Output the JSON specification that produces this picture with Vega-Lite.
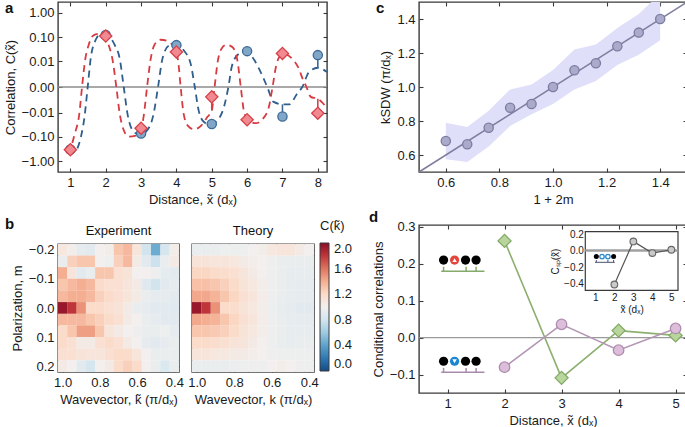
{
"$schema": "https://vega.github.io/schema/vega-lite/v6.json",
"padding": {"left": 3, "top": 0, "right": 0, "bottom": 0},
"background": "white",
"spacing": 15,
"resolve": {"scale": {"color": "independent"}},
"datasets": {
"one": [{}],
"ptsB": [{"x":1,"y":-0.33,"t":-0.33},{"x":2,"y":0.125,"t":0.125},{"x":3,"y":-0.075,"t":-0.085},{"x":4,"y":0.048,"t":0.055},{"x":5,"y":-0.03,"t":-0.032},{"x":6,"y":0.027,"t":0.022},{"x":7,"y":-0.0145,"t":-0.004},{"x":8,"y":0.0184,"t":0.005}],
"ptsR": [{"x":1,"y":-0.34,"t":-0.3},{"x":2,"y":0.113,"t":0.12},{"x":3,"y":-0.045,"t":-0.05},{"x":4,"y":0.025,"t":0.025},{"x":5,"y":-0.0015,"t":-0.008},{"x":6,"y":-0.02,"t":-0.024},{"x":7,"y":0.0216,"t":0.02},{"x":8,"y":-0.0104,"t":-0.002}],
"curveB": [{"x":1.2,"y":-0.3},{"x":1.3,"y":-0.1},{"x":1.4,"y":-0.015},{"x":1.49,"y":0},{"x":1.58,"y":0.015},{"x":1.7,"y":0.07},{"x":1.85,"y":0.13},{"x":2.05,"y":0.12},{"x":2.25,"y":0.05},{"x":2.4,"y":0.012},{"x":2.51,"y":0},{"x":2.62,"y":-0.012},{"x":2.78,"y":-0.06},{"x":2.97,"y":-0.085},{"x":3.15,"y":-0.06},{"x":3.35,"y":-0.012},{"x":3.48,"y":0},{"x":3.6,"y":0.012},{"x":3.78,"y":0.045},{"x":4.0,"y":0.055},{"x":4.2,"y":0.03},{"x":4.4,"y":0.008},{"x":4.52,"y":0},{"x":4.63,"y":-0.008},{"x":4.78,"y":-0.025},{"x":4.95,"y":-0.032},{"x":5.15,"y":-0.022},{"x":5.35,"y":-0.005},{"x":5.47,"y":0},{"x":5.57,"y":0.006},{"x":5.75,"y":0.02},{"x":5.95,"y":0.027},{"x":6.15,"y":0.015},{"x":6.35,"y":0.004},{"x":6.57,"y":0},{"x":6.75,"y":-0.003},{"x":7.0,"y":-0.004},{"x":7.2,"y":-0.004},{"x":7.4,"y":-0.001},{"x":7.56,"y":0},{"x":7.75,"y":0.003},{"x":8.0,"y":0.005},{"x":8.26,"y":0.003}],
"curveR": [{"x":0.88,"y":-0.45},{"x":1.0,"y":-0.3},{"x":1.12,"y":-0.08},{"x":1.25,"y":-0.012},{"x":1.33,"y":0},{"x":1.42,"y":0.012},{"x":1.52,"y":0.05},{"x":1.65,"y":0.12},{"x":1.8,"y":0.14},{"x":1.95,"y":0.12},{"x":2.08,"y":0.05},{"x":2.2,"y":0.01},{"x":2.3,"y":0},{"x":2.4,"y":-0.012},{"x":2.5,"y":-0.05},{"x":2.65,"y":-0.1},{"x":2.85,"y":-0.09},{"x":3.0,"y":-0.05},{"x":3.08,"y":-0.012},{"x":3.17,"y":0},{"x":3.27,"y":0.012},{"x":3.38,"y":0.05},{"x":3.55,"y":0.08},{"x":3.75,"y":0.07},{"x":3.95,"y":0.035},{"x":4.05,"y":0.01},{"x":4.12,"y":0},{"x":4.2,"y":-0.01},{"x":4.32,"y":-0.035},{"x":4.5,"y":-0.05},{"x":4.7,"y":-0.035},{"x":4.88,"y":-0.015},{"x":5.0,"y":-0.008},{"x":5.08,"y":0},{"x":5.17,"y":0.01},{"x":5.28,"y":0.035},{"x":5.42,"y":0.05},{"x":5.58,"y":0.04},{"x":5.72,"y":0.012},{"x":5.82,"y":0},{"x":5.92,"y":-0.01},{"x":6.05,"y":-0.022},{"x":6.25,"y":-0.028},{"x":6.45,"y":-0.018},{"x":6.62,"y":-0.005},{"x":6.72,"y":0},{"x":6.82,"y":0.006},{"x":6.92,"y":0.016},{"x":7.05,"y":0.02},{"x":7.25,"y":0.014},{"x":7.45,"y":0.005},{"x":7.58,"y":0.001},{"x":7.68,"y":0},{"x":7.8,"y":-0.0015},{"x":8.0,"y":-0.002},{"x":8.26,"y":-0.006}],
"exp": [
{"m":-0.2,"k":1,"c":1.08},{"m":-0.2,"k":0.95,"c":1.02},{"m":-0.2,"k":0.9,"c":0.92},{"m":-0.2,"k":0.85,"c":0.9},{"m":-0.2,"k":0.8,"c":1.0},{"m":-0.2,"k":0.75,"c":1.02},{"m":-0.2,"k":0.7,"c":1.3},{"m":-0.2,"k":0.65,"c":1.35},{"m":-0.2,"k":0.6,"c":1.1},{"m":-0.2,"k":0.55,"c":0.8},{"m":-0.2,"k":0.5,"c":0.45},{"m":-0.2,"k":0.45,"c":0.82},{"m":-0.2,"k":0.4,"c":1.02},
{"m":-0.16,"k":1,"c":0.95},{"m":-0.16,"k":0.95,"c":1.25},{"m":-0.16,"k":0.9,"c":1.3},{"m":-0.16,"k":0.85,"c":1.3},{"m":-0.16,"k":0.8,"c":1.0},{"m":-0.16,"k":0.75,"c":0.97},{"m":-0.16,"k":0.7,"c":1.25},{"m":-0.16,"k":0.65,"c":1.35},{"m":-0.16,"k":0.6,"c":1.05},{"m":-0.16,"k":0.55,"c":0.9},{"m":-0.16,"k":0.5,"c":0.78},{"m":-0.16,"k":0.45,"c":0.95},{"m":-0.16,"k":0.4,"c":1.05},
{"m":-0.12,"k":1,"c":1.4},{"m":-0.12,"k":0.95,"c":1.1},{"m":-0.12,"k":0.9,"c":0.9},{"m":-0.12,"k":0.85,"c":0.95},{"m":-0.12,"k":0.8,"c":1.3},{"m":-0.12,"k":0.75,"c":1.3},{"m":-0.12,"k":0.7,"c":1.15},{"m":-0.12,"k":0.65,"c":1.12},{"m":-0.12,"k":0.6,"c":1.0},{"m":-0.12,"k":0.55,"c":1.0},{"m":-0.12,"k":0.5,"c":0.98},{"m":-0.12,"k":0.45,"c":0.92},{"m":-0.12,"k":0.4,"c":0.9},
{"m":-0.08,"k":1,"c":1.3},{"m":-0.08,"k":0.95,"c":1.35},{"m":-0.08,"k":0.9,"c":1.4},{"m":-0.08,"k":0.85,"c":1.35},{"m":-0.08,"k":0.8,"c":1.2},{"m":-0.08,"k":0.75,"c":1.15},{"m":-0.08,"k":0.7,"c":1.15},{"m":-0.08,"k":0.65,"c":1.1},{"m":-0.08,"k":0.6,"c":1.05},{"m":-0.08,"k":0.55,"c":0.88},{"m":-0.08,"k":0.5,"c":0.8},{"m":-0.08,"k":0.45,"c":0.9},{"m":-0.08,"k":0.4,"c":0.92},
{"m":-0.04,"k":1,"c":1.35},{"m":-0.04,"k":0.95,"c":1.4},{"m":-0.04,"k":0.9,"c":1.4},{"m":-0.04,"k":0.85,"c":1.35},{"m":-0.04,"k":0.8,"c":1.25},{"m":-0.04,"k":0.75,"c":1.2},{"m":-0.04,"k":0.7,"c":1.15},{"m":-0.04,"k":0.65,"c":1.1},{"m":-0.04,"k":0.6,"c":1.05},{"m":-0.04,"k":0.55,"c":0.95},{"m":-0.04,"k":0.5,"c":0.92},{"m":-0.04,"k":0.45,"c":0.92},{"m":-0.04,"k":0.4,"c":0.9},
{"m":0,"k":1,"c":1.95},{"m":0,"k":0.95,"c":1.8},{"m":0,"k":0.9,"c":1.5},{"m":0,"k":0.85,"c":1.2},{"m":0,"k":0.8,"c":1.2},{"m":0,"k":0.75,"c":1.15},{"m":0,"k":0.7,"c":1.12},{"m":0,"k":0.65,"c":1.05},{"m":0,"k":0.6,"c":0.95},{"m":0,"k":0.55,"c":0.92},{"m":0,"k":0.5,"c":0.9},{"m":0,"k":0.45,"c":0.9},{"m":0,"k":0.4,"c":0.88},
{"m":0.04,"k":1,"c":1.35},{"m":0.04,"k":0.95,"c":1.35},{"m":0.04,"k":0.9,"c":1.35},{"m":0.04,"k":0.85,"c":1.3},{"m":0.04,"k":0.8,"c":1.25},{"m":0.04,"k":0.75,"c":1.2},{"m":0.04,"k":0.7,"c":1.15},{"m":0.04,"k":0.65,"c":1.05},{"m":0.04,"k":0.6,"c":1.0},{"m":0.04,"k":0.55,"c":0.95},{"m":0.04,"k":0.5,"c":0.92},{"m":0.04,"k":0.45,"c":0.9},{"m":0.04,"k":0.4,"c":0.9},
{"m":0.08,"k":1,"c":1.2},{"m":0.08,"k":0.95,"c":1.3},{"m":0.08,"k":0.9,"c":1.45},{"m":0.08,"k":0.85,"c":1.45},{"m":0.08,"k":0.8,"c":1.3},{"m":0.08,"k":0.75,"c":1.1},{"m":0.08,"k":0.7,"c":1.05},{"m":0.08,"k":0.65,"c":1.0},{"m":0.08,"k":0.6,"c":0.98},{"m":0.08,"k":0.55,"c":0.95},{"m":0.08,"k":0.5,"c":0.95},{"m":0.08,"k":0.45,"c":0.97},{"m":0.08,"k":0.4,"c":0.92},
{"m":0.12,"k":1,"c":1.2},{"m":0.12,"k":0.95,"c":1.15},{"m":0.12,"k":0.9,"c":1.05},{"m":0.12,"k":0.85,"c":1.05},{"m":0.12,"k":0.8,"c":1.15},{"m":0.12,"k":0.75,"c":1.2},{"m":0.12,"k":0.7,"c":1.15},{"m":0.12,"k":0.65,"c":1.05},{"m":0.12,"k":0.6,"c":1.0},{"m":0.12,"k":0.55,"c":0.92},{"m":0.12,"k":0.5,"c":0.9},{"m":0.12,"k":0.45,"c":0.92},{"m":0.12,"k":0.4,"c":0.95},
{"m":0.16,"k":1,"c":1.15},{"m":0.16,"k":0.95,"c":1.15},{"m":0.16,"k":0.9,"c":1.12},{"m":0.16,"k":0.85,"c":1.1},{"m":0.16,"k":0.8,"c":1.1},{"m":0.16,"k":0.75,"c":1.15},{"m":0.16,"k":0.7,"c":1.2},{"m":0.16,"k":0.65,"c":1.2},{"m":0.16,"k":0.6,"c":1.1},{"m":0.16,"k":0.55,"c":1.0},{"m":0.16,"k":0.5,"c":0.95},{"m":0.16,"k":0.45,"c":0.95},{"m":0.16,"k":0.4,"c":0.95},
{"m":0.2,"k":1,"c":1.05},{"m":0.2,"k":0.95,"c":1.0},{"m":0.2,"k":0.9,"c":0.9},{"m":0.2,"k":0.85,"c":0.82},{"m":0.2,"k":0.8,"c":1.0},{"m":0.2,"k":0.75,"c":1.05},{"m":0.2,"k":0.7,"c":1.2},{"m":0.2,"k":0.65,"c":1.25},{"m":0.2,"k":0.6,"c":1.2},{"m":0.2,"k":0.55,"c":1.0},{"m":0.2,"k":0.5,"c":0.95},{"m":0.2,"k":0.45,"c":0.85},{"m":0.2,"k":0.4,"c":0.95}
],
"thy": [
{"m":-0.2,"k":1,"c":0.95},{"m":-0.2,"k":0.95,"c":0.95},{"m":-0.2,"k":0.9,"c":0.95},{"m":-0.2,"k":0.85,"c":0.97},{"m":-0.2,"k":0.8,"c":0.97},{"m":-0.2,"k":0.75,"c":0.97},{"m":-0.2,"k":0.7,"c":1.0},{"m":-0.2,"k":0.65,"c":1.02},{"m":-0.2,"k":0.6,"c":1.08},{"m":-0.2,"k":0.55,"c":1.1},{"m":-0.2,"k":0.5,"c":1.1},{"m":-0.2,"k":0.45,"c":1.05},{"m":-0.2,"k":0.4,"c":1.0},
{"m":-0.16,"k":1,"c":1.12},{"m":-0.16,"k":0.95,"c":1.12},{"m":-0.16,"k":0.9,"c":1.1},{"m":-0.16,"k":0.85,"c":1.1},{"m":-0.16,"k":0.8,"c":1.08},{"m":-0.16,"k":0.75,"c":1.05},{"m":-0.16,"k":0.7,"c":1.02},{"m":-0.16,"k":0.65,"c":1.0},{"m":-0.16,"k":0.6,"c":0.98},{"m":-0.16,"k":0.55,"c":0.95},{"m":-0.16,"k":0.5,"c":0.95},{"m":-0.16,"k":0.45,"c":0.95},{"m":-0.16,"k":0.4,"c":0.95},
{"m":-0.12,"k":1,"c":1.22},{"m":-0.12,"k":0.95,"c":1.22},{"m":-0.12,"k":0.9,"c":1.2},{"m":-0.12,"k":0.85,"c":1.18},{"m":-0.12,"k":0.8,"c":1.15},{"m":-0.12,"k":0.75,"c":1.1},{"m":-0.12,"k":0.7,"c":1.05},{"m":-0.12,"k":0.65,"c":1.0},{"m":-0.12,"k":0.6,"c":0.98},{"m":-0.12,"k":0.55,"c":0.95},{"m":-0.12,"k":0.5,"c":0.93},{"m":-0.12,"k":0.45,"c":0.93},{"m":-0.12,"k":0.4,"c":0.93},
{"m":-0.08,"k":1,"c":1.32},{"m":-0.08,"k":0.95,"c":1.32},{"m":-0.08,"k":0.9,"c":1.3},{"m":-0.08,"k":0.85,"c":1.25},{"m":-0.08,"k":0.8,"c":1.2},{"m":-0.08,"k":0.75,"c":1.12},{"m":-0.08,"k":0.7,"c":1.08},{"m":-0.08,"k":0.65,"c":1.02},{"m":-0.08,"k":0.6,"c":0.98},{"m":-0.08,"k":0.55,"c":0.95},{"m":-0.08,"k":0.5,"c":0.93},{"m":-0.08,"k":0.45,"c":0.92},{"m":-0.08,"k":0.4,"c":0.92},
{"m":-0.04,"k":1,"c":1.42},{"m":-0.04,"k":0.95,"c":1.42},{"m":-0.04,"k":0.9,"c":1.38},{"m":-0.04,"k":0.85,"c":1.3},{"m":-0.04,"k":0.8,"c":1.22},{"m":-0.04,"k":0.75,"c":1.15},{"m":-0.04,"k":0.7,"c":1.1},{"m":-0.04,"k":0.65,"c":1.03},{"m":-0.04,"k":0.6,"c":0.98},{"m":-0.04,"k":0.55,"c":0.95},{"m":-0.04,"k":0.5,"c":0.93},{"m":-0.04,"k":0.45,"c":0.92},{"m":-0.04,"k":0.4,"c":0.92},
{"m":0,"k":1,"c":1.95},{"m":0,"k":0.95,"c":1.8},{"m":0,"k":0.9,"c":1.5},{"m":0,"k":0.85,"c":1.2},{"m":0,"k":0.8,"c":1.18},{"m":0,"k":0.75,"c":1.12},{"m":0,"k":0.7,"c":1.08},{"m":0,"k":0.65,"c":1.02},{"m":0,"k":0.6,"c":0.97},{"m":0,"k":0.55,"c":0.93},{"m":0,"k":0.5,"c":0.92},{"m":0,"k":0.45,"c":0.9},{"m":0,"k":0.4,"c":0.9},
{"m":0.04,"k":1,"c":1.42},{"m":0.04,"k":0.95,"c":1.4},{"m":0.04,"k":0.9,"c":1.38},{"m":0.04,"k":0.85,"c":1.3},{"m":0.04,"k":0.8,"c":1.22},{"m":0.04,"k":0.75,"c":1.15},{"m":0.04,"k":0.7,"c":1.1},{"m":0.04,"k":0.65,"c":1.03},{"m":0.04,"k":0.6,"c":0.98},{"m":0.04,"k":0.55,"c":0.95},{"m":0.04,"k":0.5,"c":0.93},{"m":0.04,"k":0.45,"c":0.92},{"m":0.04,"k":0.4,"c":0.92},
{"m":0.08,"k":1,"c":1.3},{"m":0.08,"k":0.95,"c":1.3},{"m":0.08,"k":0.9,"c":1.28},{"m":0.08,"k":0.85,"c":1.25},{"m":0.08,"k":0.8,"c":1.2},{"m":0.08,"k":0.75,"c":1.12},{"m":0.08,"k":0.7,"c":1.08},{"m":0.08,"k":0.65,"c":1.02},{"m":0.08,"k":0.6,"c":0.98},{"m":0.08,"k":0.55,"c":0.95},{"m":0.08,"k":0.5,"c":0.93},{"m":0.08,"k":0.45,"c":0.93},{"m":0.08,"k":0.4,"c":0.93},
{"m":0.12,"k":1,"c":1.2},{"m":0.12,"k":0.95,"c":1.2},{"m":0.12,"k":0.9,"c":1.18},{"m":0.12,"k":0.85,"c":1.15},{"m":0.12,"k":0.8,"c":1.12},{"m":0.12,"k":0.75,"c":1.1},{"m":0.12,"k":0.7,"c":1.05},{"m":0.12,"k":0.65,"c":1.0},{"m":0.12,"k":0.6,"c":0.97},{"m":0.12,"k":0.55,"c":0.95},{"m":0.12,"k":0.5,"c":0.93},{"m":0.12,"k":0.45,"c":0.95},{"m":0.12,"k":0.4,"c":0.95},
{"m":0.16,"k":1,"c":1.1},{"m":0.16,"k":0.95,"c":1.1},{"m":0.16,"k":0.9,"c":1.08},{"m":0.16,"k":0.85,"c":1.07},{"m":0.16,"k":0.8,"c":1.05},{"m":0.16,"k":0.75,"c":1.05},{"m":0.16,"k":0.7,"c":1.02},{"m":0.16,"k":0.65,"c":1.0},{"m":0.16,"k":0.6,"c":0.98},{"m":0.16,"k":0.55,"c":0.97},{"m":0.16,"k":0.5,"c":0.97},{"m":0.16,"k":0.45,"c":0.97},{"m":0.16,"k":0.4,"c":0.97},
{"m":0.2,"k":1,"c":0.95},{"m":0.2,"k":0.95,"c":0.95},{"m":0.2,"k":0.9,"c":0.95},{"m":0.2,"k":0.85,"c":0.95},{"m":0.2,"k":0.8,"c":0.96},{"m":0.2,"k":0.75,"c":0.97},{"m":0.2,"k":0.7,"c":0.98},{"m":0.2,"k":0.65,"c":0.98},{"m":0.2,"k":0.6,"c":1.0},{"m":0.2,"k":0.55,"c":1.02},{"m":0.2,"k":0.5,"c":1.0},{"m":0.2,"k":0.45,"c":0.98},{"m":0.2,"k":0.4,"c":0.97}
],
"kpts": [{"x":0.6,"y":0.682},{"x":0.68,"y":0.663},{"x":0.76,"y":0.76},{"x":0.84,"y":0.878},{"x":0.92,"y":0.9},{"x":1.0,"y":1.0},{"x":1.08,"y":1.099},{"x":1.16,"y":1.14},{"x":1.24,"y":1.24},{"x":1.32,"y":1.32},{"x":1.4,"y":1.4}],
"band": [{"x":0.6,"lo":0.575,"hi":0.79},{"x":0.68,"lo":0.559,"hi":0.764},{"x":0.76,"lo":0.65,"hi":0.86},{"x":0.84,"lo":0.77,"hi":0.986},{"x":0.92,"lo":0.84,"hi":1.015},{"x":1.0,"lo":0.9,"hi":1.1},{"x":1.08,"lo":0.986,"hi":1.22},{"x":1.16,"lo":1.035,"hi":1.25},{"x":1.24,"lo":1.13,"hi":1.347},{"x":1.32,"lo":1.19,"hi":1.43},{"x":1.4,"lo":1.275,"hi":1.55}],
"green": [{"x":2,"y":0.262},{"x":3,"y":-0.109},{"x":4,"y":0.019},{"x":5,"y":0.006}],
"purple": [{"x":2,"y":-0.08},{"x":3,"y":0.036},{"x":4,"y":-0.034},{"x":5,"y":0.025}],
"icDots": [{"x":0.931,"y":0.21},{"x":1.316,"y":0.21},{"x":1.501,"y":0.21},{"x":0.931,"y":-0.064},{"x":1.316,"y":-0.064},{"x":1.501,"y":-0.064}],
"icUp": [{"x":1.124,"y":0.21}],
"icDn": [{"x":1.124,"y":-0.064}],
"brG": [{"x":0.89,"x2":1.648,"y":0.18,"y2":0.18},{"x":0.931,"x2":0.931,"y":0.18,"y2":0.192},{"x":1.326,"x2":1.326,"y":0.18,"y2":0.192},{"x":1.501,"x2":1.501,"y":0.18,"y2":0.192}],
"brP": [{"x":0.89,"x2":1.648,"y":-0.094,"y2":-0.094},{"x":0.931,"x2":0.931,"y":-0.094,"y2":-0.082},{"x":1.326,"x2":1.326,"y":-0.094,"y2":-0.082},{"x":1.501,"x2":1.501,"y":-0.094,"y2":-0.082}],
"csp": [{"x":2,"y":-0.41},{"x":3,"y":0.11},{"x":4,"y":-0.03},{"x":5,"y":0.01}],
"iDots": [{"x":1.05,"y":-0.073},{"x":1.96,"y":-0.073}],
"iBlue": [{"x":1.35,"y":-0.073},{"x":1.66,"y":-0.073}],
"iBr": [{"x":0.98,"x2":2.02,"y":-0.142,"y2":-0.142},{"x":1.05,"x2":1.05,"y":-0.142,"y2":-0.114},{"x":1.66,"x2":1.66,"y":-0.142,"y2":-0.114},{"x":1.96,"x2":1.96,"y":-0.142,"y2":-0.114}]
},
"hconcat": [
{"vconcat": [
 {"width": 269, "height": 170,
  "title": {"text": "a", "anchor": "start", "frame": "group", "offset": 0, "dx": -53, "dy": 27, "baseline": "alphabetic"},
  "resolve": {"scale": {"x": "independent", "y": "independent"}},
  "layer": [
  {"layer": [
   {"data": {"name": "one"}, "mark": {"type": "rule", "color": "#8c8c8c", "strokeWidth": 1.5},
    "encoding": {"y": {"datum": 0, "type": "quantitative", "scale": {"type": "symlog", "constant": 0.001, "domain": [-2.7, 2.7], "nice": false, "zero": false}, "axis": {"values": [-1,-0.1,-0.01,0,0.01,0.1,1], "format": ".2f", "title": "Correlation, C(x\u0303)", "labelOverlap": false}}}},
   {"data": {"name": "curveB"}, "mark": {"type": "line", "color": "#2f5e8c", "strokeWidth": 1.8, "strokeDash": [7, 5], "interpolate": "monotone", "clip": true},
    "encoding": {"x": {"field": "x", "type": "quantitative", "scale": {"domain": [0.65, 8.26], "nice": false, "zero": false}, "axis": {"values": [1,2,3,4,5,6,7,8], "format": "d", "title": "Distance, x\u0303 (d\u2093)", "labelOverlap": false}},
                 "y": {"field": "y", "type": "quantitative", "scale": {"type": "symlog", "constant": 0.001, "domain": [-2.7, 2.7], "nice": false, "zero": false}, "axis": {"values": [-1,-0.1,-0.01,0,0.01,0.1,1], "format": ".2f", "title": "Correlation, C(x\u0303)", "labelOverlap": false}}}},
   {"data": {"name": "curveR"}, "mark": {"type": "line", "color": "#d63b42", "strokeWidth": 1.8, "strokeDash": [7, 5], "interpolate": "monotone", "clip": true},
    "encoding": {"x": {"field": "x", "type": "quantitative", "scale": {"domain": [0.65, 8.26], "nice": false, "zero": false}, "axis": {"values": [1,2,3,4,5,6,7,8], "format": "d", "title": "Distance, x\u0303 (d\u2093)", "labelOverlap": false}},
                 "y": {"field": "y", "type": "quantitative", "scale": {"type": "symlog", "constant": 0.001, "domain": [-2.7, 2.7], "nice": false, "zero": false}, "axis": {"values": [-1,-0.1,-0.01,0,0.01,0.1,1], "format": ".2f", "title": "Correlation, C(x\u0303)", "labelOverlap": false}}}},
   {"data": {"name": "ptsB"}, "mark": {"type": "rule", "color": "#3d6a96", "strokeWidth": 1.6},
    "encoding": {"x": {"field": "x", "type": "quantitative", "scale": {"domain": [0.65, 8.26], "nice": false, "zero": false}, "axis": {"values": [1,2,3,4,5,6,7,8], "format": "d", "title": "Distance, x\u0303 (d\u2093)", "labelOverlap": false}},
                 "y": {"field": "y", "type": "quantitative", "scale": {"type": "symlog", "constant": 0.001, "domain": [-2.7, 2.7], "nice": false, "zero": false}, "axis": {"values": [-1,-0.1,-0.01,0,0.01,0.1,1], "format": ".2f", "title": "Correlation, C(x\u0303)", "labelOverlap": false}}, "y2": {"field": "t"}}},
   {"data": {"name": "ptsR"}, "mark": {"type": "rule", "color": "#d7404a", "strokeWidth": 1.6},
    "encoding": {"x": {"field": "x", "type": "quantitative", "scale": {"domain": [0.65, 8.26], "nice": false, "zero": false}, "axis": {"values": [1,2,3,4,5,6,7,8], "format": "d", "title": "Distance, x\u0303 (d\u2093)", "labelOverlap": false}},
                 "y": {"field": "y", "type": "quantitative", "scale": {"type": "symlog", "constant": 0.001, "domain": [-2.7, 2.7], "nice": false, "zero": false}, "axis": {"values": [-1,-0.1,-0.01,0,0.01,0.1,1], "format": ".2f", "title": "Correlation, C(x\u0303)", "labelOverlap": false}}, "y2": {"field": "t"}}},
   {"data": {"name": "ptsB"}, "mark": {"type": "point", "shape": "circle", "filled": true, "fill": "#80a6c8", "stroke": "#3d6a96", "strokeWidth": 1.3, "size": 85, "opacity": 1},
    "encoding": {"x": {"field": "x", "type": "quantitative", "scale": {"domain": [0.65, 8.26], "nice": false, "zero": false}, "axis": {"values": [1,2,3,4,5,6,7,8], "format": "d", "title": "Distance, x\u0303 (d\u2093)", "labelOverlap": false}},
                 "y": {"field": "y", "type": "quantitative", "scale": {"type": "symlog", "constant": 0.001, "domain": [-2.7, 2.7], "nice": false, "zero": false}, "axis": {"values": [-1,-0.1,-0.01,0,0.01,0.1,1], "format": ".2f", "title": "Correlation, C(x\u0303)", "labelOverlap": false}}}},
   {"data": {"name": "ptsR"}, "mark": {"type": "point", "shape": "diamond", "filled": true, "fill": "#f08a90", "stroke": "#d7404a", "strokeWidth": 1.3, "size": 150, "opacity": 1},
    "encoding": {"x": {"field": "x", "type": "quantitative", "scale": {"domain": [0.65, 8.26], "nice": false, "zero": false}, "axis": {"values": [1,2,3,4,5,6,7,8], "format": "d", "title": "Distance, x\u0303 (d\u2093)", "labelOverlap": false}},
                 "y": {"field": "y", "type": "quantitative", "scale": {"type": "symlog", "constant": 0.001, "domain": [-2.7, 2.7], "nice": false, "zero": false}, "axis": {"values": [-1,-0.1,-0.01,0,0.01,0.1,1], "format": ".2f", "title": "Correlation, C(x\u0303)", "labelOverlap": false}}}}
  ]},
  {"data": {"name": "one"}, "mark": {"type": "point", "opacity": 0},
   "encoding": {"x": {"datum": 1, "type": "quantitative", "scale": {"domain": [0.65, 8.26], "nice": false, "zero": false}, "axis": {"orient": "top", "values": [1,2,3,4,5,6,7,8], "labels": false, "title": null}},
                "y": {"datum": 0, "type": "quantitative", "scale": {"type": "symlog", "constant": 0.001, "domain": [-2.7, 2.7], "nice": false, "zero": false}, "axis": {"orient": "right", "values": [-1,-0.1,-0.01,0,0.01,0.1,1], "labels": false, "title": null}}}}
  ]},
 {"title": {"text": "b", "anchor": "start", "frame": "group", "offset": 0, "dx": -53, "dy": 24, "baseline": "alphabetic"},
  "spacing": 13, "bounds": "flush",
  "hconcat": [
   {"width": 121, "height": 128,
    "title": {"text": "Experiment", "anchor": "middle", "frame": "group", "fontSize": 13, "fontWeight": "normal", "offset": 5, "dy": 10, "baseline": "alphabetic"},
    "resolve": {"scale": {"x": "independent", "y": "independent"}},
    "layer": [
     {"data": {"name": "exp"}, "mark": {"type": "rect", "width": 9.5, "height": 11.8},
      "encoding": {
       "x": {"field": "k", "type": "quantitative", "scale": {"domain": [0.375, 1.025], "reverse": true, "nice": false, "zero": false}, "axis": {"values": [1, 0.8, 0.6, 0.4], "format": ".1f", "title": "Wavevector, k\u0303 (\u03c0/d\u2093)"}},
       "y": {"field": "m", "type": "quantitative", "scale": {"domain": [-0.22, 0.22], "reverse": true, "nice": false, "zero": false}, "axis": {"values": [-0.2, -0.1, 0, 0.1, 0.2], "format": ".1f", "title": "Polarization, m"}},
       "color": {"field": "c", "type": "quantitative", "scale": {"scheme": "redblue", "reverse": true, "domain": [0, 2]},
         "legend": {"orient": "none", "legendX": 262, "legendY": -24, "direction": "vertical", "gradientLength": 128, "gradientThickness": 9, "values": [0, 0.4, 0.8, 1.2, 1.6, 2], "format": ".1f", "title": "C(k\u0303)", "titleFontSize": 13, "titleFontWeight": "normal", "labelFontSize": 13, "labelOverlap": false, "gradientStrokeColor": "#3a3a3a", "gradientStrokeWidth": 1, "titlePadding": 10, "labelOffset": 5}}
      }},
     {"data": {"name": "one"}, "mark": {"type": "point", "opacity": 0},
      "encoding": {"x": {"datum": 1, "type": "quantitative", "scale": {"domain": [0.375, 1.025], "reverse": true, "nice": false, "zero": false}, "axis": {"orient": "top", "values": [1, 0.8, 0.6, 0.4], "labels": false, "title": null}},
                   "y": {"datum": 0, "type": "quantitative", "scale": {"domain": [-0.22, 0.22], "reverse": true, "nice": false, "zero": false}, "axis": {"orient": "right", "values": [-0.2, -0.1, 0, 0.1, 0.2], "labels": false, "title": null}}}}
    ]},
   {"width": 122, "height": 128,
    "title": {"text": "Theory", "anchor": "middle", "frame": "group", "fontSize": 13, "fontWeight": "normal", "offset": 5, "dy": 10, "baseline": "alphabetic"},
    "resolve": {"scale": {"x": "independent", "y": "independent"}},
    "layer": [
     {"data": {"name": "thy"}, "mark": {"type": "rect", "width": 9.5, "height": 11.8},
      "encoding": {
       "x": {"field": "k", "type": "quantitative", "scale": {"domain": [0.375, 1.025], "reverse": true, "nice": false, "zero": false}, "axis": {"values": [1, 0.8, 0.6, 0.4], "format": ".1f", "title": "Wavevector, k (\u03c0/d\u2093)"}},
       "y": {"field": "m", "type": "quantitative", "scale": {"domain": [-0.22, 0.22], "reverse": true, "nice": false, "zero": false}, "axis": {"values": [-0.2, -0.1, 0, 0.1, 0.2], "labels": false, "title": null}},
       "color": {"field": "c", "type": "quantitative", "scale": {"scheme": "redblue", "reverse": true, "domain": [0, 2]}, "legend": null}
      }},
     {"data": {"name": "one"}, "mark": {"type": "point", "opacity": 0},
      "encoding": {"x": {"datum": 1, "type": "quantitative", "scale": {"domain": [0.375, 1.025], "reverse": true, "nice": false, "zero": false}, "axis": {"orient": "top", "values": [1, 0.8, 0.6, 0.4], "labels": false, "title": null}},
                   "y": {"datum": 0, "type": "quantitative", "scale": {"domain": [-0.22, 0.22], "reverse": true, "nice": false, "zero": false}, "axis": {"orient": "right", "values": [-0.2, -0.1, 0, 0.1, 0.2], "labels": false, "title": null}}}}
    ]}
  ]}
 ], "spacing": 72, "bounds": "flush", "resolve": {"scale": {"color": "independent"}}},
{"vconcat": [
 {"width": 268, "height": 170,
  "title": {"text": "c", "anchor": "start", "frame": "group", "offset": 0, "dx": -43, "dy": 27, "baseline": "alphabetic"},
  "resolve": {"scale": {"x": "independent", "y": "independent"}},
  "layer": [
  {"layer": [
   {"data": {"name": "band"}, "mark": {"type": "area", "color": "#dfdffa", "opacity": 1, "clip": true},
    "encoding": {"x": {"field": "x", "type": "quantitative", "scale": {"domain": [0.5, 1.5], "nice": false, "zero": false}, "axis": {"values": [0.6, 0.8, 1, 1.2, 1.4], "format": ".1f", "title": "1 + 2m"}},
                 "y": {"field": "lo", "type": "quantitative", "scale": {"domain": [0.5, 1.5], "nice": false, "zero": false}, "axis": {"values": [0.6, 0.8, 1, 1.2, 1.4], "format": ".1f", "title": "kSDW (\u03c0/d\u2093)"}},
                 "y2": {"field": "hi"}}},
   {"data": {"name": "one"}, "mark": {"type": "rule", "color": "#7d7d9d", "strokeWidth": 1.5},
    "encoding": {"x": {"datum": 0.5, "type": "quantitative", "scale": {"domain": [0.5, 1.5], "nice": false, "zero": false}},
                 "y": {"datum": 0.5, "type": "quantitative", "scale": {"domain": [0.5, 1.5], "nice": false, "zero": false}},
                 "x2": {"datum": 1.5}, "y2": {"datum": 1.5}}},
   {"data": {"name": "kpts"}, "mark": {"type": "point", "shape": "circle", "filled": true, "fill": "#aaaacb", "stroke": "#7c7ca0", "strokeWidth": 1.3, "size": 85, "opacity": 1},
    "encoding": {"x": {"field": "x", "type": "quantitative", "scale": {"domain": [0.5, 1.5], "nice": false, "zero": false}},
                 "y": {"field": "y", "type": "quantitative", "scale": {"domain": [0.5, 1.5], "nice": false, "zero": false}}}}
  ]},
  {"data": {"name": "one"}, "mark": {"type": "point", "opacity": 0},
   "encoding": {"x": {"datum": 1, "type": "quantitative", "scale": {"domain": [0.5, 1.5], "nice": false, "zero": false}, "axis": {"orient": "top", "values": [0.6, 0.8, 1, 1.2, 1.4], "labels": false, "title": null}},
                "y": {"datum": 1, "type": "quantitative", "scale": {"domain": [0.5, 1.5], "nice": false, "zero": false}, "axis": {"orient": "right", "values": [0.6, 0.8, 1, 1.2, 1.4], "labels": false, "title": null}}}}
  ]},
 {"width": 268, "height": 168,
  "title": {"text": "d", "anchor": "start", "frame": "group", "offset": 0, "dx": -50, "dy": 16, "baseline": "alphabetic"},
  "resolve": {"scale": {"x": "independent", "y": "independent"}},
  "layer": [
   {"layer": [
     {"data": {"name": "one"}, "mark": {"type": "rule", "color": "#9a9a9a", "strokeWidth": 1.2},
      "encoding": {"y": {"datum": 0, "type": "quantitative", "scale": {"domain": [-0.15, 0.305], "nice": false, "zero": false}}}},
     {"data": {"name": "green"}, "mark": {"type": "line", "color": "#8db070", "strokeWidth": 1.6},
      "encoding": {"x": {"field": "x", "type": "quantitative", "scale": {"domain": [0.5, 5.2], "nice": false, "zero": false}, "axis": {"values": [1,2,3,4,5], "format": "d", "title": "Distance, x\u0303 (d\u2093)"}},
                   "y": {"field": "y", "type": "quantitative", "scale": {"domain": [-0.15, 0.305], "nice": false, "zero": false}, "axis": {"values": [-0.1, 0, 0.1, 0.2, 0.3], "format": ".1f", "title": "Conditional correlations"}}}},
     {"data": {"name": "purple"}, "mark": {"type": "line", "color": "#b396b4", "strokeWidth": 1.6},
      "encoding": {"x": {"field": "x", "type": "quantitative", "scale": {"domain": [0.5, 5.2], "nice": false, "zero": false}},
                   "y": {"field": "y", "type": "quantitative", "scale": {"domain": [-0.15, 0.305], "nice": false, "zero": false}}}},
     {"data": {"name": "green"}, "mark": {"type": "point", "shape": "diamond", "filled": true, "fill": "#b8d59c", "stroke": "#82a866", "strokeWidth": 1.3, "size": 170, "opacity": 1},
      "encoding": {"x": {"field": "x", "type": "quantitative", "scale": {"domain": [0.5, 5.2], "nice": false, "zero": false}},
                   "y": {"field": "y", "type": "quantitative", "scale": {"domain": [-0.15, 0.305], "nice": false, "zero": false}}}},
     {"data": {"name": "purple"}, "mark": {"type": "point", "shape": "circle", "filled": true, "fill": "#dcbedb", "stroke": "#b08cae", "strokeWidth": 1.3, "size": 110, "opacity": 1},
      "encoding": {"x": {"field": "x", "type": "quantitative", "scale": {"domain": [0.5, 5.2], "nice": false, "zero": false}},
                   "y": {"field": "y", "type": "quantitative", "scale": {"domain": [-0.15, 0.305], "nice": false, "zero": false}}}},
     {"data": {"name": "brG"}, "mark": {"type": "rule", "color": "#86a96c", "strokeWidth": 1.5},
      "encoding": {"x": {"field": "x", "type": "quantitative", "scale": {"domain": [0.5, 5.2], "nice": false, "zero": false}}, "x2": {"field": "x2"},
                   "y": {"field": "y", "type": "quantitative", "scale": {"domain": [-0.15, 0.305], "nice": false, "zero": false}}, "y2": {"field": "y2"}}},
     {"data": {"name": "brP"}, "mark": {"type": "rule", "color": "#a88aaa", "strokeWidth": 1.5},
      "encoding": {"x": {"field": "x", "type": "quantitative", "scale": {"domain": [0.5, 5.2], "nice": false, "zero": false}}, "x2": {"field": "x2"},
                   "y": {"field": "y", "type": "quantitative", "scale": {"domain": [-0.15, 0.305], "nice": false, "zero": false}}, "y2": {"field": "y2"}}},
     {"data": {"name": "icDots"}, "mark": {"type": "point", "shape": "circle", "filled": true, "color": "#000000", "size": 85, "opacity": 1},
      "encoding": {"x": {"field": "x", "type": "quantitative", "scale": {"domain": [0.5, 5.2], "nice": false, "zero": false}},
                   "y": {"field": "y", "type": "quantitative", "scale": {"domain": [-0.15, 0.305], "nice": false, "zero": false}}}},
     {"data": {"name": "icUp"}, "mark": {"type": "point", "shape": "circle", "filled": true, "color": "#e4463b", "size": 85, "opacity": 1},
      "encoding": {"x": {"field": "x", "type": "quantitative", "scale": {"domain": [0.5, 5.2], "nice": false, "zero": false}},
                   "y": {"field": "y", "type": "quantitative", "scale": {"domain": [-0.15, 0.305], "nice": false, "zero": false}}}},
     {"data": {"name": "icDn"}, "mark": {"type": "point", "shape": "circle", "filled": true, "color": "#1a86cf", "size": 85, "opacity": 1},
      "encoding": {"x": {"field": "x", "type": "quantitative", "scale": {"domain": [0.5, 5.2], "nice": false, "zero": false}},
                   "y": {"field": "y", "type": "quantitative", "scale": {"domain": [-0.15, 0.305], "nice": false, "zero": false}}}},
     {"data": {"name": "icUp"}, "mark": {"type": "point", "shape": "triangle-up", "filled": true, "color": "#ffffff", "size": 20, "opacity": 1},
      "encoding": {"x": {"field": "x", "type": "quantitative", "scale": {"domain": [0.5, 5.2], "nice": false, "zero": false}},
                   "y": {"field": "y", "type": "quantitative", "scale": {"domain": [-0.15, 0.305], "nice": false, "zero": false}}}},
     {"data": {"name": "icDn"}, "mark": {"type": "point", "shape": "triangle-down", "filled": true, "color": "#ffffff", "size": 20, "opacity": 1},
      "encoding": {"x": {"field": "x", "type": "quantitative", "scale": {"domain": [0.5, 5.2], "nice": false, "zero": false}},
                   "y": {"field": "y", "type": "quantitative", "scale": {"domain": [-0.15, 0.305], "nice": false, "zero": false}}}}
   ]},
   {"layer": [
     {"data": {"name": "one"}, "mark": {"type": "rect", "fill": "#ffffff", "stroke": "#3a3a3a", "strokeWidth": 1.2},
      "encoding": {"x": {"datum": 0.47, "type": "quantitative", "scale": {"domain": [0.47, 5.35], "range": [166.3, 259], "nice": false, "zero": false}}, "x2": {"datum": 5.35},
                   "y": {"datum": -0.48, "type": "quantitative", "scale": {"domain": [-0.48, 0.228], "range": [65.3, 6.7], "nice": false, "zero": false}}, "y2": {"datum": 0.228}}},
     {"data": {"name": "one"}, "mark": {"type": "rule", "color": "#a0a0a0", "strokeWidth": 2.5},
      "encoding": {"x": {"datum": 0.47, "type": "quantitative", "scale": {"domain": [0.47, 5.35], "range": [166.3, 259], "nice": false, "zero": false}}, "x2": {"datum": 5.35},
                   "y": {"datum": 0, "type": "quantitative", "scale": {"domain": [-0.48, 0.228], "range": [65.3, 6.7], "nice": false, "zero": false}}}},
     {"data": {"name": "iBr"}, "mark": {"type": "rule", "color": "#4a5570", "strokeWidth": 1},
      "encoding": {"x": {"field": "x", "type": "quantitative", "scale": {"domain": [0.47, 5.35], "range": [166.3, 259], "nice": false, "zero": false}}, "x2": {"field": "x2"},
                   "y": {"field": "y", "type": "quantitative", "scale": {"domain": [-0.48, 0.228], "range": [65.3, 6.7], "nice": false, "zero": false}}, "y2": {"field": "y2"}}},
     {"data": {"name": "iDots"}, "mark": {"type": "point", "shape": "circle", "filled": true, "color": "#000000", "size": 25, "opacity": 1},
      "encoding": {"x": {"field": "x", "type": "quantitative", "scale": {"domain": [0.47, 5.35], "range": [166.3, 259], "nice": false, "zero": false}},
                   "y": {"field": "y", "type": "quantitative", "scale": {"domain": [-0.48, 0.228], "range": [65.3, 6.7], "nice": false, "zero": false}}}},
     {"data": {"name": "iBlue"}, "mark": {"type": "point", "shape": "circle", "filled": false, "fill": "#ffffff", "stroke": "#2a8ad4", "strokeWidth": 1.3, "size": 20, "opacity": 1},
      "encoding": {"x": {"field": "x", "type": "quantitative", "scale": {"domain": [0.47, 5.35], "range": [166.3, 259], "nice": false, "zero": false}},
                   "y": {"field": "y", "type": "quantitative", "scale": {"domain": [-0.48, 0.228], "range": [65.3, 6.7], "nice": false, "zero": false}}}},
     {"data": {"name": "csp"}, "mark": {"type": "line", "color": "#555555", "strokeWidth": 1.2},
      "encoding": {"x": {"field": "x", "type": "quantitative", "scale": {"domain": [0.47, 5.35], "range": [166.3, 259], "nice": false, "zero": false},
                         "axis": {"orient": "bottom", "offset": -102.7, "values": [1,2,3,4,5], "format": "d", "labelFontSize": 10, "titleFontSize": 10, "title": "x\u0303 (d\u2093)", "tickSize": -3, "labelPadding": 5, "titlePadding": 2, "labelOverlap": false}},
                   "y": {"field": "y", "type": "quantitative", "scale": {"domain": [-0.48, 0.228], "range": [65.3, 6.7], "nice": false, "zero": false},
                         "axis": {"orient": "left", "offset": -166.3, "values": [-0.4, -0.2, 0, 0.2], "format": ".1f", "labelFontSize": 10, "titleFontSize": 10, "title": "C\u209b\u209a(x\u0303)", "tickSize": -3, "labelPadding": 5, "titlePadding": 3, "labelOverlap": false}}}},
     {"data": {"name": "csp"}, "mark": {"type": "point", "shape": "circle", "filled": true, "fill": "#cacaca", "stroke": "#666666", "strokeWidth": 1.1, "size": 45, "opacity": 1},
      "encoding": {"x": {"field": "x", "type": "quantitative", "scale": {"domain": [0.47, 5.35], "range": [166.3, 259], "nice": false, "zero": false}},
                   "y": {"field": "y", "type": "quantitative", "scale": {"domain": [-0.48, 0.228], "range": [65.3, 6.7], "nice": false, "zero": false}}}}
   ]},
   {"data": {"name": "one"}, "mark": {"type": "point", "opacity": 0},
    "encoding": {"x": {"datum": 1, "type": "quantitative", "scale": {"domain": [0.5, 5.2], "nice": false, "zero": false}, "axis": {"orient": "top", "values": [1,2,3,4,5], "labels": false, "title": null}},
                 "y": {"datum": 0, "type": "quantitative", "scale": {"domain": [-0.15, 0.305], "nice": false, "zero": false}, "axis": {"orient": "right", "values": [-0.1, 0, 0.1, 0.2, 0.3], "labels": false, "title": null}}}}
  ]}
 ], "spacing": 53, "bounds": "flush"}
],
"config": {
 "font": "Liberation Sans",
 "view": {"stroke": "#3a3a3a", "strokeWidth": 1.4},
 "axis": {"labelFontSize": 13, "titleFontSize": 13, "titleFontWeight": "normal", "labelColor": "#1a1a1a", "titleColor": "#1a1a1a", "domain": false, "grid": false, "tickColor": "#3a3a3a", "tickSize": -4, "tickWidth": 1.1, "labelPadding": 8, "titlePadding": 4, "labelOverlap": false},
 "title": {"fontSize": 15, "fontWeight": "bold", "color": "#111111"},
 "legend": {"labelColor": "#1a1a1a", "titleColor": "#1a1a1a"}
}
}
